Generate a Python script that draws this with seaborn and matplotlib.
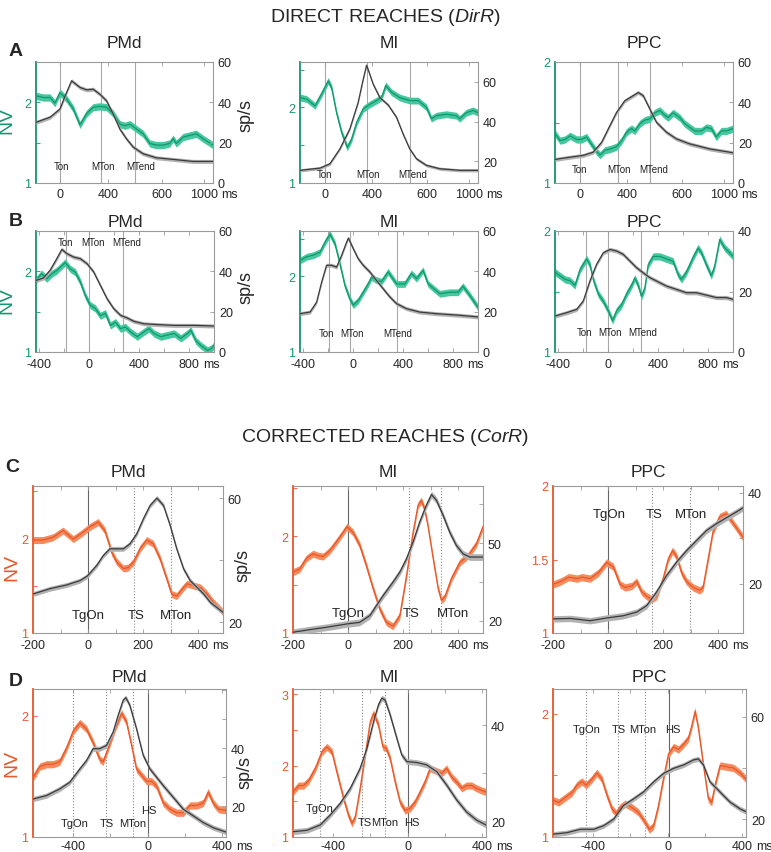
import numpy as np
import matplotlib
matplotlib.use('Agg')
from matplotlib import pyplot as plt
from matplotlib import transforms
import seaborn as sns

# ---------------- data ----------------
# row A, direct reaches aligned to target onset (ms); NV and firing rate (sp/s)
a_pmd_nv_t = [-160, -112, -68, -36, -3, 41, 84, 128, 171, 215, 259, 302, 346, 389, 422, 455, 498, 542, 586,
              629, 673, 716, 738, 760, 804, 847, 891, 934, 1000]
a_pmd_nv = [2.08, 2.06, 2.06, 1.99, 2.12, 2.04, 1.92, 1.72, 1.86, 1.94, 1.95, 1.94, 1.86, 1.73, 1.71, 1.73, 1.67,
            1.61, 1.49, 1.47, 1.47, 1.49, 1.55, 1.49, 1.57, 1.59, 1.61, 1.55, 1.47]
a_pmd_fr_t = [-160, -68, -3, 30, 73, 128, 171, 215, 259, 302, 346, 389, 433, 477, 542, 629, 738, 869, 1000]
a_pmd_fr = [30.1, 32.6, 36.7, 43.0, 50.7, 47.4, 46.2, 46.5, 44.0, 40.8, 34.2, 26.8, 21.9, 17.8, 14.5, 12.5, 11.7,
            10.7, 10.7]

a_mi_nv_t = [-160, -117, -62, -19, 24, 46, 78, 111, 148, 176, 209, 252, 295, 339, 371, 399, 436, 490, 555, 610,
             664, 696, 729, 794, 859, 881, 924, 967, 1000]
a_mi_nv = [2.13, 2.11, 2.02, 2.18, 2.35, 2.26, 1.93, 1.67, 1.47, 1.58, 1.80, 1.98, 2.04, 2.09, 2.13, 2.29, 2.20,
           2.13, 2.09, 2.09, 2.00, 1.85, 1.89, 1.91, 1.89, 1.85, 1.93, 1.96, 1.93]
a_mi_fr_t = [-160, -30, 35, 100, 165, 219, 252, 274, 317, 360, 415, 469, 512, 555, 599, 664, 751, 881, 1000]
a_mi_fr = [15.4, 16.5, 18.7, 26.2, 36.3, 49.6, 61.3, 68.4, 58.8, 52.1, 48.3, 42.1, 33.7, 26.2, 21.2, 17.9, 16.2,
           15.4, 15.4]

a_ppc_nv_t = [-160, -127, -95, -62, -19, 13, 46, 78, 111, 133, 165, 198, 241, 274, 306, 339, 360, 393, 425, 458,
              490, 523, 555, 577, 610, 653, 686, 718, 751, 794, 826, 859, 891, 924, 957, 1000]
a_ppc_nv = [1.41, 1.35, 1.36, 1.39, 1.36, 1.36, 1.38, 1.32, 1.26, 1.23, 1.27, 1.28, 1.30, 1.35, 1.42, 1.45, 1.43,
            1.49, 1.52, 1.53, 1.58, 1.60, 1.56, 1.54, 1.58, 1.54, 1.49, 1.46, 1.43, 1.43, 1.46, 1.45, 1.38, 1.43,
            1.43, 1.45]
a_ppc_fr_t = [-160, -62, 24, 89, 144, 198, 241, 295, 349, 382, 415, 458, 501, 566, 631, 718, 848, 1000]
a_ppc_fr = [11.7, 12.8, 13.7, 15.3, 20.2, 28.5, 35.0, 40.8, 43.3, 44.9, 43.3, 36.7, 30.1, 25.2, 21.9, 19.4, 16.9,
            15.0]

# row B, direct reaches aligned to movement onset
b_pmd_nv_t = [-420, -375, -334, -294, -254, -214, -187, -147, -107, -67, -27, 13, 53, 93, 134, 174, 214, 254, 294,
              334, 388, 441, 481, 521, 575, 628, 682, 735, 789, 815, 855, 896, 949, 976, 1000]
b_pmd_nv = [1.89, 1.97, 1.91, 1.97, 2.01, 2.07, 2.11, 2.03, 1.99, 1.87, 1.70, 1.58, 1.54, 1.45, 1.48, 1.33, 1.37,
            1.29, 1.31, 1.25, 1.19, 1.25, 1.29, 1.23, 1.19, 1.21, 1.23, 1.17, 1.23, 1.27, 1.14, 1.08, 1.02, 1.04,
            1.08]
b_pmd_fr_t = [-420, -361, -308, -254, -214, -174, -120, -67, -13, 40, 93, 147, 200, 254, 307, 361, 441, 548, 682,
              842, 1000]
b_pmd_fr = [35.5, 36.7, 40.5, 46.3, 50.9, 48.8, 47.1, 46.3, 43.8, 39.7, 33.1, 26.4, 21.5, 18.2, 16.9, 15.2, 14.0,
            13.6, 13.2, 13.2, 12.9]

b_mi_nv_t = [-420, -367, -314, -261, -221, -181, -141, -102, -62, -22, 5, 44, 84, 124, 151, 190, 230, 283, 350,
             416, 469, 509, 562, 602, 695, 774, 841, 880, 934, 1000]
b_mi_nv = [2.21, 2.26, 2.28, 2.32, 2.45, 2.56, 2.43, 2.17, 1.88, 1.70, 1.62, 1.68, 1.79, 1.90, 1.99, 1.95, 1.93,
           2.06, 1.90, 1.90, 2.04, 1.97, 2.08, 1.90, 1.77, 1.79, 1.79, 1.87, 1.75, 1.59]
b_mi_fr_t = [-420, -340, -287, -247, -208, -168, -128, -88, -48, -34, 5, 44, 84, 137, 190, 243, 297, 350, 429,
             535, 668, 854, 1000]
b_mi_fr = [19.0, 19.8, 24.8, 34.7, 43.0, 43.0, 42.1, 47.9, 54.5, 56.5, 51.2, 46.3, 43.0, 39.7, 35.5, 31.4, 27.3,
           24.0, 21.5, 19.8, 19.0, 18.2, 17.4]

b_ppc_nv_t = [-420, -380, -340, -301, -261, -221, -168, -141, -115, -75, -35, 5, 39, 71, 111, 151, 190, 217, 244,
              270, 297, 323, 363, 416, 469, 522, 562, 589, 628, 681, 721, 748, 788, 827, 854, 894, 934, 973, 1000]
b_ppc_nv = [1.66, 1.63, 1.60, 1.59, 1.55, 1.68, 1.77, 1.72, 1.60, 1.48, 1.42, 1.34, 1.26, 1.34, 1.39, 1.48, 1.55,
            1.61, 1.55, 1.46, 1.53, 1.72, 1.79, 1.79, 1.77, 1.75, 1.64, 1.60, 1.66, 1.78, 1.86, 1.82, 1.72, 1.63,
            1.71, 1.93, 1.86, 1.82, 1.79]
b_ppc_fr_t = [-420, -327, -247, -194, -141, -88, -35, 18, 71, 124, 177, 230, 283, 336, 389, 469, 549, 628, 708,
              788, 867, 947, 1000]
b_ppc_fr = [11.9, 13.0, 14.1, 16.9, 23.5, 29.0, 32.8, 33.9, 33.4, 32.3, 30.1, 27.9, 26.2, 24.6, 23.5, 21.8, 20.7,
            19.6, 19.6, 18.8, 18.0, 18.0, 17.4]

# row C, corrected reaches aligned to target onset
c_pmd_nv_t = [-200, -164, -127, -91, -54, -24, 7, 37, 61, 86, 104, 128, 146, 165, 189, 213, 237, 262, 286, 304,
              322, 341, 359, 383, 408, 432, 456, 490]
c_pmd_nv = [1.98, 1.98, 2.01, 2.08, 1.99, 2.05, 2.12, 2.17, 2.08, 1.85, 1.75, 1.68, 1.69, 1.75, 1.89, 1.98, 1.94,
            1.78, 1.57, 1.41, 1.39, 1.46, 1.52, 1.50, 1.48, 1.41, 1.32, 1.22]
c_pmd_fr_t = [-200, -139, -79, -30, -3, 31, 55, 79, 104, 128, 152, 177, 201, 225, 250, 274, 298, 322, 347, 371,
              395, 420, 444, 490]
c_pmd_fr = [29.1, 30.8, 32.0, 33.4, 34.9, 38.3, 41.5, 43.7, 43.7, 43.7, 45.3, 48.6, 53.4, 57.7, 60.1, 57.7, 51.3,
            43.7, 37.2, 33.4, 31.3, 29.1, 26.4, 23.2]

c_mi_nv_t = [-200, -176, -152, -127, -109, -91, -67, -43, -18, -4, 18, 42, 66, 91, 115, 139, 163, 188, 212, 236,
             254, 266, 278, 290, 309, 327, 339, 351, 375, 406, 436, 466, 490]
c_mi_nv = [1.63, 1.66, 1.77, 1.82, 1.80, 1.79, 1.85, 1.94, 2.04, 2.10, 2.04, 1.91, 1.70, 1.46, 1.25, 1.11, 1.07,
           1.18, 1.59, 2.04, 2.32, 2.37, 2.28, 2.11, 1.77, 1.46, 1.34, 1.37, 1.56, 1.73, 1.80, 1.92, 2.10]
c_mi_fr_t = [-200, -139, -79, -4, 42, 79, 103, 127, 163, 188, 212, 236, 260, 284, 303, 321, 345, 369, 393, 418,
             442, 466, 490]
c_mi_fr = [15.6, 16.6, 17.5, 18.8, 19.4, 22.0, 25.9, 29.7, 34.9, 38.8, 43.9, 50.4, 58.1, 64.5, 68.7, 66.5, 60.7,
           54.2, 49.1, 45.8, 44.6, 44.6, 44.6]

c_ppc_nv_t = [-200, -173, -143, -113, -95, -65, -35, -5, 19, 44, 62, 86, 104, 122, 140, 158, 176, 200, 218, 234,
              249, 267, 285, 309, 333, 345, 363, 381, 405, 429, 453, 472, 490]
c_ppc_nv = [1.33, 1.35, 1.38, 1.37, 1.38, 1.37, 1.41, 1.48, 1.45, 1.33, 1.31, 1.32, 1.35, 1.28, 1.25, 1.23, 1.25,
            1.37, 1.50, 1.56, 1.52, 1.41, 1.35, 1.31, 1.29, 1.31, 1.50, 1.69, 1.79, 1.81, 1.75, 1.70, 1.65]
c_ppc_fr_t = [-200, -137, -65, -5, 56, 104, 140, 176, 212, 249, 285, 321, 357, 393, 429, 466, 490]
c_ppc_fr = [12.3, 12.4, 11.9, 12.5, 13.0, 13.8, 15.2, 18.2, 21.8, 24.8, 27.3, 29.5, 31.7, 33.2, 34.5, 35.8, 36.7]

# row D, corrected reaches aligned to hand stop
d_pmd_nv_t = [-615, -579, -543, -508, -472, -436, -400, -364, -328, -293, -257, -239, -212, -176, -140, -114, -87,
              -60, -33, -6, 21, 48, 84, 119, 155, 191, 227, 263, 298, 325, 352, 379, 420]
d_pmd_nv = [1.49, 1.58, 1.60, 1.60, 1.62, 1.73, 1.87, 1.94, 1.89, 1.78, 1.64, 1.62, 1.73, 1.89, 2.02, 1.95, 1.76,
            1.56, 1.51, 1.46, 1.46, 1.42, 1.28, 1.23, 1.20, 1.20, 1.26, 1.26, 1.28, 1.37, 1.28, 1.23, 1.22]
d_pmd_fr_t = [-615, -543, -472, -418, -364, -328, -293, -257, -221, -185, -158, -131, -117, -96, -60, -24, 12, 48,
              84, 137, 191, 245, 298, 352, 420]
d_pmd_fr = [22.4, 23.6, 25.9, 28.2, 32.8, 35.7, 39.8, 39.8, 40.9, 45.6, 51.4, 56.6, 57.4, 54.8, 46.7, 37.5, 32.8,
            29.9, 27.0, 23.0, 18.9, 16.6, 14.3, 12.5, 11.0]

d_mi_nv_t = [-615, -585, -558, -531, -495, -460, -433, -406, -380, -344, -317, -299, -281, -255, -228, -201, -183,
             -157, -133, -115, -94, -67, -41, -14, 13, 40, 67, 93, 120, 147, 182, 209, 236, 263, 290, 316, 343, 370,
             397, 420]
d_mi_nv = [1.63, 1.72, 1.72, 1.79, 1.96, 2.19, 2.26, 2.19, 1.91, 1.54, 1.30, 1.19, 1.28, 1.68, 2.14, 2.61, 2.73,
           2.57, 2.26, 2.24, 2.10, 1.77, 1.49, 1.37, 1.40, 1.49, 1.63, 1.77, 1.96, 1.93, 1.89, 1.96, 1.84, 1.77,
           1.68, 1.72, 1.72, 1.68, 1.65, 1.63]
d_mi_fr_t = [-615, -540, -469, -415, -362, -308, -255, -219, -183, -157, -139, -121, -94, -58, -32, -5, 49, 102,
             156, 209, 263, 316, 370, 420]
d_mi_fr = [17.8, 18.1, 19.2, 21.3, 23.7, 26.8, 31.0, 35.1, 40.7, 44.2, 45.6, 45.2, 42.1, 37.2, 33.8, 32.4, 32.2,
           31.7, 30.3, 27.5, 24.4, 21.9, 20.2, 19.2]

d_ppc_nv_t = [-615, -585, -549, -513, -487, -460, -437, -406, -380, -353, -326, -299, -276, -255, -228, -192, -157,
              -121, -98, -76, -50, -23, 4, 31, 58, 84, 111, 129, 147, 165, 192, 218, 236, 254, 281, 317, 353, 388,
              420]
d_ppc_nv = [1.30, 1.28, 1.32, 1.36, 1.42, 1.45, 1.42, 1.47, 1.52, 1.47, 1.34, 1.23, 1.19, 1.24, 1.27, 1.24, 1.20,
            1.12, 1.06, 1.09, 1.25, 1.47, 1.67, 1.73, 1.71, 1.75, 1.80, 1.90, 2.02, 1.88, 1.58, 1.31, 1.28, 1.42,
            1.58, 1.57, 1.56, 1.52, 1.47]
d_ppc_fr_t = [-615, -540, -469, -397, -344, -290, -237, -183, -130, -76, -23, 31, 84, 138, 165, 192, 227, 263, 299,
              335, 388, 420]
d_ppc_fr = [14.1, 14.7, 16.0, 16.0, 17.4, 20.0, 25.3, 27.9, 30.6, 34.5, 37.8, 39.8, 41.1, 43.1, 43.5, 41.1, 34.5,
            31.9, 29.2, 26.6, 24.0, 22.9]

# events (ms)
ab_events = ['Ton', 'MTon', 'MTend']
a_pmd_ev = [0, 263, 487]
a_mi_ev = [0, 274, 555]
a_ppc_ev = [0, 248, 462]
b_pmd_ev = [-182, 0, 273]
b_mi_ev = [-186, -25, 350]
b_ppc_ev = [-173, 0, 270]
c_events = ['TgOn', 'TS', 'MTon']
c_pmd_ev = [0, 165, 300]
c_mi_ev = [0, 220, 339]
c_ppc_ev = [0, 158, 297]
d_events = ['TgOn', 'TS', 'MTon', 'HS']
d_pmd_ev = [-400, -226, -81, 0]
d_mi_ev = [-472, -246, -121, 0]
d_ppc_ev = [-437, -267, -124, 5]

# x tick labels per row
a_xticklabels = ['0', '400', '600', '1000']
b_xticklabels = ['-400', '', '0', '', '400', '', '800']
c_xticklabels = ['-200', '', '0', '', '200', '', '400']
d_xticklabels = ['-400', '', '0', '', '400']
areas = ['PMd', 'MI', 'PPC']

# ---------------- style ----------------
sns.set_style('ticks')
plt.rcParams['font.family'] = ['Liberation Sans', 'DejaVu Sans']
plt.rcParams['mathtext.fontset'] = 'custom'
plt.rcParams['mathtext.rm'] = 'Liberation Sans'
plt.rcParams['mathtext.it'] = 'Liberation Sans:italic'

GREEN, GREEN_BAND = '#15956f', '#44c89e'
ORANGE, ORANGE_BAND = '#e5582a', '#f78b5d'
GRAY, GRAY_BAND = '#3a3a3a', '#b2b2b2'
SPINE = '#9a9a9a'
FS = 9

W, H = 771, 853
fig = plt.figure(figsize=(W / 100, H / 100), dpi=100)


def add_ax(box):
    x0, y0, x1, y1 = box
    return fig.add_axes([x0 / W, 1 - y1 / H, (x1 - x0) / W, (y1 - y0) / H])


def draw_panel(p):
    ax = add_ax(p['box'])
    ax2 = ax.twinx()
    t = np.array(p['nv_t'])
    v = np.array(p['nv'])
    ax.fill_between(t, v - p['nv_sem'], v + p['nv_sem'], color=p['band'], lw=0, zorder=1)
    sns.lineplot(x=t, y=v, ax=ax, color=p['line'], lw=0.9, zorder=2)
    t2 = np.array(p['fr_t'])
    v2 = np.array(p['fr'])
    ax2.fill_between(t2, v2 - p['fr_sem'], v2 + p['fr_sem'], color=GRAY_BAND, lw=0, zorder=1)
    sns.lineplot(x=t2, y=v2, ax=ax2, color=GRAY, lw=0.9, zorder=2)

    for et, name, ls, ey, dx in zip(p['ev_t'], p['ev_names'], p['ev_ls'], p['ev_y'], p['ev_dx']):
        ax.axvline(et, color='#8a8a8a' if ls != '-' else p['ev_col'], lw=0.8, ls=ls, zorder=0.5)
        off = transforms.ScaledTranslation(dx / 72, 0, fig.dpi_scale_trans)
        ax2.text(et, ey, name, transform=ax2.get_xaxis_transform() + off, ha='center', va='center',
                 fontsize=p['ev_fs'], color='#222222', zorder=5)

    ax.set_xlim(p['xlim'])
    ax.set_ylim(p['nv_lim'])
    ax2.set_ylim(p['fr_lim'])
    ax.set_xticks(p['xticks'])
    ax.set_xticklabels(p['xlabels'])
    ax.set_yticks(p['nv_ticks'])
    ax.set_yticklabels(p['nv_labels'])
    ax2.set_yticks(p['fr_ticks'])
    ax2.set_yticklabels(p['fr_labels'])
    ax.set_xlabel('')
    ax.set_ylabel('')
    ax2.set_ylabel('')

    for s in ['top', 'bottom']:
        ax.spines[s].set_color(SPINE)
        ax.spines[s].set_linewidth(0.8)
    ax.spines['right'].set_visible(False)
    ax.spines['left'].set_color(p['line'])
    ax.spines['left'].set_linewidth(1.3)
    for s in ['top', 'bottom', 'left']:
        ax2.spines[s].set_visible(False)
    ax2.spines['right'].set_color(SPINE)
    ax2.spines['right'].set_linewidth(0.8)

    ax.tick_params(axis='x', direction='in', top=True, length=3, width=0.6, color=SPINE,
                   labelsize=FS, pad=p['xpad'])
    ax.tick_params(axis='y', direction='in', length=3, width=0.6, color=p['line'],
                   labelcolor=p['line'], labelsize=FS, pad=3.5)
    ax2.tick_params(axis='y', direction='in', length=3, width=0.6, color=SPINE,
                    labelsize=FS, pad=3.5)

    # unit after the last labelled x tick
    last = [tk for tk, lb in zip(p['xticks'], p['xlabels']) if lb][-1]
    lab = [lb for lb in p['xlabels'] if lb][-1]
    ax.annotate('ms', xy=(last, 0), xycoords=('data', 'axes fraction'),
                xytext=(len(lab) * 2.5 + 2.4, -p['xpad']), textcoords='offset points',
                ha='left', va='top', fontsize=FS)
    ax.set_title(p['title'], fontsize=12.5, pad=p['pad'])


rows = {
    'A': dict(boxes=[(36, 63, 213, 184), (300, 63, 478, 184), (555, 63, 733, 184)],
              nv_t=[a_pmd_nv_t, a_mi_nv_t, a_ppc_nv_t], nv=[a_pmd_nv, a_mi_nv, a_ppc_nv],
              fr_t=[a_pmd_fr_t, a_mi_fr_t, a_ppc_fr_t], fr=[a_pmd_fr, a_mi_fr, a_ppc_fr],
              ev=[a_pmd_ev, a_mi_ev, a_ppc_ev], names=ab_events, ls=['-'] * 3,
              ev_y=[[0.14] * 3, [0.075] * 3, [0.115] * 3], ev_fs=7,
              ev_dx=[[1, 2, 4], [0, 1, 2], [0, 1, 2]],
              xlim=(-160, 1000), xticks=[0, 312, 666, 940], xlabels=a_xticklabels, xpad=3.5,
              nv_lim=[(1, 2.5), (1, 2.6), (1, 2)], nv_sem=[0.045, 0.045, 0.03],
              fr_lim=[(0, 60), (9, 70), (0, 60)], fr_sem=[1.0, 0.8, 1.0],
              fr_ticks=[[0, 20, 40, 60], [20, 40, 60], [0, 20, 40, 60]],
              green=True, pad=11),
    'B': dict(boxes=[(36, 232, 214, 353), (300, 232, 478, 353), (555, 232, 733, 353)],
              nv_t=[b_pmd_nv_t, b_mi_nv_t, b_ppc_nv_t], nv=[b_pmd_nv, b_mi_nv, b_ppc_nv],
              fr_t=[b_pmd_fr_t, b_mi_fr_t, b_ppc_fr_t], fr=[b_pmd_fr, b_mi_fr, b_ppc_fr],
              ev=[b_pmd_ev, b_mi_ev, b_ppc_ev], names=ab_events, ls=['-'] * 3,
              ev_y=[[0.91] * 3, [0.16] * 3, [0.165] * 3], ev_fs=7,
              ev_dx=[[0, 3, 3], [-2, 2, 1], [-1, 2, 1]],
              xlim=(-420, 1000), xticks=[-400, -200, 0, 200, 400, 600, 800], xlabels=b_xticklabels, xpad=4.5,
              nv_lim=[(1, 2.5), (1, 2.6), (1, 2)], nv_sem=[0.045, 0.045, 0.03],
              fr_lim=[(0, 60), (0, 60), (0, 40)], fr_sem=[1.0, 1.0, 0.7],
              fr_ticks=[[0, 20, 40, 60], [0, 20, 40, 60], [0, 20, 40]],
              green=True, pad=3.5),
    'C': dict(boxes=[(33, 487, 223, 634), (293, 487, 483, 634), (553, 487, 743, 634)],
              nv_t=[c_pmd_nv_t, c_mi_nv_t, c_ppc_nv_t], nv=[c_pmd_nv, c_mi_nv, c_ppc_nv],
              fr_t=[c_pmd_fr_t, c_mi_fr_t, c_ppc_fr_t], fr=[c_pmd_fr, c_mi_fr, c_ppc_fr],
              ev=[c_pmd_ev, c_mi_ev, c_ppc_ev], names=c_events, ls=['-', ':', ':'],
              ev_y=[[0.125] * 3, [0.136] * 3, [0.81] * 3], ev_fs=9.5,
              ev_dx=[[0, 2, 4], [0, 2, 8], [1, 2, 1]],
              xlim=(-200, 490), xticks=[-200, -100, 0, 100, 200, 300, 400], xlabels=c_xticklabels, xpad=4,
              nv_lim=[(1, 2.55), (1, 2.52), (1, 2)], nv_sem=[0.037, 0.036, 0.025],
              fr_lim=[(16.5, 64), (15.3, 72), (9.2, 41.5)], fr_sem=[0.8, 1.3, 0.7],
              fr_ticks=[[20, 40, 60], [20, 35, 50, 65], [20, 30, 40]],
              green=False, pad=7),
    'D': dict(boxes=[(33, 690, 226, 838), (293, 690, 486, 838), (553, 690, 746, 838)],
              nv_t=[d_pmd_nv_t, d_mi_nv_t, d_ppc_nv_t], nv=[d_pmd_nv, d_mi_nv, d_ppc_nv],
              fr_t=[d_pmd_fr_t, d_mi_fr_t, d_ppc_fr_t], fr=[d_pmd_fr, d_mi_fr, d_ppc_fr],
              ev=[d_pmd_ev, d_mi_ev, d_ppc_ev], names=d_events, ls=[':', ':', ':', '-'],
              ev_y=[[0.095, 0.095, 0.095, 0.185], [0.196, 0.1, 0.1, 0.1], [0.73] * 4], ev_fs=8,
              ev_dx=[[1, 1, 0, 1], [0, 2, 0, 3], [0, 1, -1, 3]],
              xlim=(-615, 420), xticks=[-400, -200, 0, 200, 400], xlabels=d_xticklabels, xpad=2.5,
              nv_lim=[(1, 2.22), (1, 3.07), (1, 2.2)], nv_sem=[0.03, 0.05, 0.03],
              fr_lim=[(9.3, 60.4), (16.7, 47.5), (13, 70.8)], fr_sem=[0.9, 0.6, 1.0],
              fr_ticks=[[20, 30, 40, 50, 60], [20, 30, 40], [20, 40, 60]],
              green=False, pad=5.5),
}

nv_ticks = {
    'A': [[1, 1.5, 2, 2.5], [1, 1.5, 2, 2.5], [1, 1.5, 2]],
    'B': [[1, 1.5, 2, 2.5], [1, 1.5, 2, 2.5], [1, 1.5, 2]],
    'C': [[1, 1.5, 2, 2.5], [1, 1.5, 2, 2.5], [1, 1.5, 2]],
    'D': [[1, 1.5, 2], [1, 1.5, 2, 2.5, 3], [1, 1.5, 2]],
}
fr_show = {  # which right ticks carry a label
    'C': [['20', '', '60'], ['20', '', '50', ''], ['20', '', '40']],
    'D': [['20', '', '40', '', ''], ['20', '', '40'], ['20', '', '60']],
}

for key, r in rows.items():
    for i in range(3):
        nt = nv_ticks[key][i]
        if key == 'C' and i == 2:
            nl = ['1', '1.5', '2']
        else:
            nl = ['%g' % x if float(x).is_integer() else '' for x in nt]
        fl = fr_show[key][i] if key in fr_show else ['%g' % x for x in r['fr_ticks'][i]]
        p = dict(box=r['boxes'][i], title=areas[i], pad=r['pad'],
                 nv_t=r['nv_t'][i], nv=r['nv'][i], nv_sem=r['nv_sem'][i],
                 fr_t=r['fr_t'][i], fr=r['fr'][i], fr_sem=r['fr_sem'][i],
                 line=GREEN if r['green'] else ORANGE, band=GREEN_BAND if r['green'] else ORANGE_BAND,
                 ev_t=r['ev'][i], ev_names=r['names'], ev_ls=r['ls'], ev_y=r['ev_y'][i],
                 ev_dx=r['ev_dx'][i], ev_fs=r['ev_fs'],
                 ev_col='#a8a8a8' if r['green'] else '#666666',
                 xlim=r['xlim'], xticks=r['xticks'], xlabels=r['xlabels'], xpad=r['xpad'],
                 nv_lim=r['nv_lim'][i], nv_ticks=nt, nv_labels=nl,
                 fr_lim=r['fr_lim'][i], fr_ticks=r['fr_ticks'][i], fr_labels=fl)
        draw_panel(p)

# headings, panel letters and axis names
fig.text(385 / W, 1 - 18 / H, r'DIRECT REACHES ($\mathit{DirR}$)', ha='center', va='center', fontsize=14)
fig.text(385 / W, 1 - 438 / H, r'CORRECTED REACHES ($\mathit{CorR}$)', ha='center', va='center', fontsize=14)
for letter, (x, y) in zip('ABCD', [(16, 51), (16, 221), (12, 468), (16, 682)]):
    fig.text(x / W, 1 - y / H, letter, ha='center', va='center', fontsize=14, fontweight='bold')
for (x, y), col in zip([(7, 120), (7, 300), (12, 567), (12, 763)], [GREEN, GREEN, ORANGE, ORANGE]):
    fig.text(x / W, 1 - y / H, 'NV', rotation=90, ha='center', va='center', fontsize=14, color=col)
for x, y in [(246, 115), (246, 288), (243, 566), (245, 773)]:
    fig.text(x / W, 1 - y / H, 'sp/s', rotation=90, ha='center', va='center', fontsize=13)

fig.savefig('out.png', dpi=100)
